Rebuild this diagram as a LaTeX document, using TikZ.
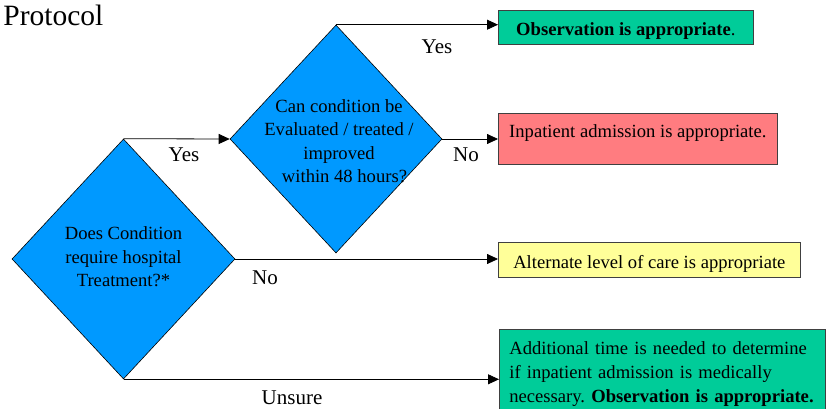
\documentclass[tikz,border=0pt]{standalone}
\usepackage{fontspec}
\setmainfont{Liberation Serif}
\usetikzlibrary{shapes.geometric,arrows.meta}
\definecolor{qblue}{HTML}{0099FF}
\definecolor{obsgreen}{HTML}{00CC99}
\definecolor{inpred}{HTML}{FF7C80}
\definecolor{altyellow}{HTML}{FFFF99}
\frenchspacing
\begin{document}
\begin{tikzpicture}[x=1pt, y=-1pt, line width=0.8pt, >={Triangle[length=11pt,width=10pt]},
    question/.style={diamond, draw=black, fill=qblue, line width=0.6pt, inner sep=0pt},
    qtext/.style={align=center, inner sep=0pt, font=\fontsize{18.6}{23.5}\selectfont},
    outcome/.style={draw=black!75, line width=0.7pt, anchor=north west, inner ysep=0pt, font=\fontsize{18.6}{24}\selectfont},
    answer/.style={inner sep=0pt, font=\fontsize{21}{24}\selectfont}]
    \useasboundingbox (0,0) rectangle (832,409);
    \clip (0,0) rectangle (832,409);
    \node[anchor=base west, inner sep=0pt, font=\fontsize{29.5}{32}\selectfont] (title) at (3,26) {Protocol};
    % the two questions
    \node[question, minimum width=223pt, minimum height=240pt] (d1) at (123.5,259) {};
    \node[question, minimum width=212pt, minimum height=228pt] (d2) at (336,139) {};
    \node[qtext] (d1t) at (123.5,257) {Does Condition\\require hospital\\Treatment?*};
    \node[qtext] (d2t) at (339,141) {Can condition be\\Evaluated / treated /\\improved\\\hspace*{11pt}within 48 hours?};
    % outcomes
    \node[outcome, fill=obsgreen, minimum width=255pt, text height=25pt, text depth=9pt] (obs) at (498,10) {\textbf{Observation is appropriate}.};
    \node[outcome, fill=inpred, minimum width=279pt, text height=24pt, text depth=27pt] (inpat) at (498,113) {Inpatient admission is appropriate.};
    \node[outcome, fill=altyellow, minimum width=302pt, text height=26pt, text depth=9pt] (alt) at (498,242) {Alternate level of care is appropriate};
    \node[outcome, fill=obsgreen, text width=306pt, inner xsep=10pt, inner ysep=12pt, align=left] (more) at (499,329)
        {\mbox{Additional time is needed to determine}\\\mbox{if inpatient admission is medically}\\\mbox{necessary. \textbf{Observation is appropriate.}}\\[30pt]};
    % connectors
    \draw[->] (d1.north) -- (d2.west);
    \foreach \a/\b in {d2.north/obs, d2.east/inpat, d1.east/alt, d1.south/more}
        \draw[->] (\a) -- (\a -| \b.west);
    \node[answer] (yes1) at (184,155) {Yes};
    \node[answer] (yes2) at (437,47) {Yes};
    \node[answer] (no1) at (466,155) {No};
    \node[answer] (no2) at (265,278) {No};
    \node[answer] (unsure) at (292,398) {Unsure};
\end{tikzpicture}
\end{document}
